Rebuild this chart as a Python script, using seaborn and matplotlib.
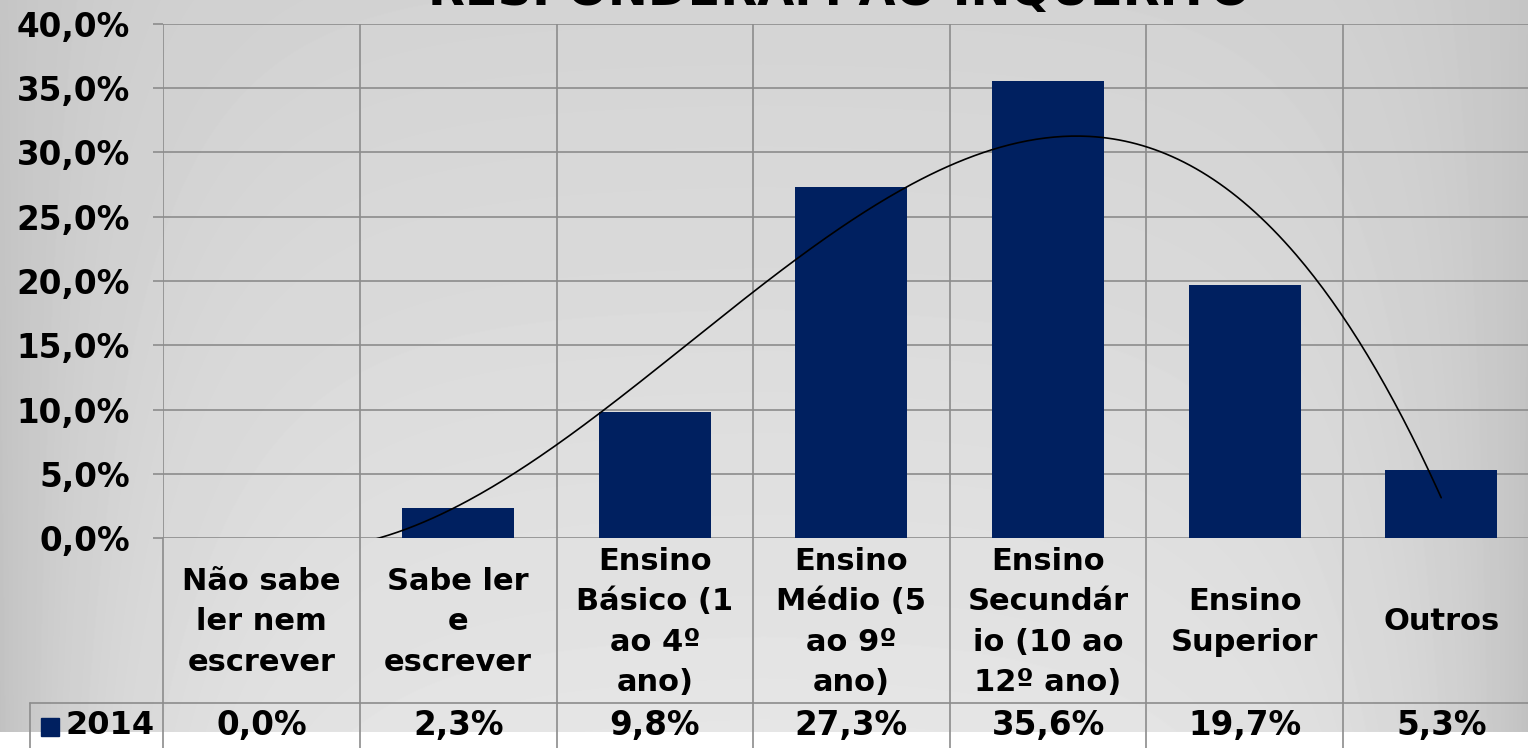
import numpy as np
import pandas as pd
import matplotlib
matplotlib.use("Agg")
import matplotlib.pyplot as plt
import matplotlib.transforms as mtransforms
from matplotlib.lines import Line2D
from matplotlib.patches import Rectangle
import seaborn as sns

# Education level of survey respondents (percent)
categories = ["Não sabe ler nem escrever", "Sabe ler e escrever",
              "Ensino Básico (1 ao 4º ano)", "Ensino Médio (5 ao 9º ano)",
              "Ensino Secundário (10 ao 12º ano)", "Ensino Superior", "Outros"]
header_labels = ["Não sabe\nler nem\nescrever", "Sabe ler\ne\nescrever",
                 "Ensino\nBásico (1\nao 4º\nano)", "Ensino\nMédio (5\nao 9º\nano)",
                 "Ensino\nSecundár\nio (10 ao\n12º ano)", "Ensino\nSuperior", "Outros"]
values_2014 = [0.0, 2.3, 9.8, 27.3, 35.6, 19.7, 5.3]
series_name = "2014"
y_ticks = [0, 5, 10, 15, 20, 25, 30, 35, 40]
title = "RESPONDERAM AO INQUÉRITO"

W, H = 1528, 748
BAR = "#002060"
GRID = "#8c8c8c"

sns.set_theme(style="white")
plt.rcParams["font.family"] = ["DejaVu Sans"]
plt.rcParams["font.weight"] = "bold"

fig = plt.figure(figsize=(W / 100, H / 100), dpi=100)


def fy(p):
    return 1 - p / H


def fx(p):
    return p / W


# soft grey backdrop, lighter towards the middle, white strip at the bottom
xs = np.arange(W)[None, :]
ys = np.arange(H)[:, None]
base = 0.83 + 0.07 * np.clip(ys / 731, 0, 1)
amp = 0.06 + 0.08 * np.clip(ys / 731, 0, 1)
edge = np.minimum(xs, W - 1 - xs)
shade = base - amp * np.exp(-edge / 130.0)
shade = np.where(ys > 731, 1.0, shade)
bg = fig.add_axes([0, 0, 1, 1], zorder=-10)
bg.imshow(shade, cmap="gray", vmin=0, vmax=1, aspect="auto",
          extent=[0, 1, 0, 1], interpolation="bilinear")
bg.axis("off")

left, right, top, bottom = 163.3, 1539.5, 24, 538
ax = fig.add_axes([fx(left), fy(bottom), fx(right - left), (bottom - top) / H], zorder=1)
ax.set_facecolor("none")

df = pd.DataFrame({"categoria": categories, "valor": values_2014})
sns.barplot(data=df, x="categoria", y="valor", color=BAR, saturation=1,
            width=0.57, ax=ax, zorder=3, edgecolor=BAR, linewidth=0)

# third-order polynomial trendline
xi = np.arange(len(values_2014))
coef = np.polyfit(xi, values_2014, 3)
xf = np.linspace(0, len(values_2014) - 1, 400)
ax.plot(xf, np.polyval(coef, xf), color="black", lw=1.2, zorder=4)

ax.set_xlim(-0.5, len(categories) - 0.5)
ax.set_ylim(0, 40)
ax.set_yticks(y_ticks)
ax.set_yticklabels([f"{t:.1f}%".replace(".", ",") for t in y_ticks],
                   fontsize=23.5, fontweight="bold", color="black")
ax.set_xticks(np.arange(-0.5, len(categories), 1), minor=True)
ax.set_xticks([])
ax.set_xlabel("")
ax.set_ylabel("")
ax.grid(which="major", axis="y", color=GRID, lw=1.2, zorder=0)
ax.grid(which="minor", axis="x", color=GRID, lw=1.2, zorder=0)
ax.tick_params(axis="y", which="major", length=7.2, width=1.2, color=GRID,
               pad=17, left=True)
ax.tick_params(axis="x", which="both", length=0)
for s in ax.spines.values():
    s.set_visible(False)

# data table under the plot
blend = mtransforms.blended_transform_factory(ax.transData, fig.transFigure)
for b in np.arange(-0.5, len(categories), 1):
    fig.add_artist(Line2D([b, b], [fy(bottom), 0], transform=blend,
                          color=GRID, lw=1.2, clip_on=False))
fig.add_artist(Line2D([fx(30), 1], [fy(703), fy(703)], transform=fig.transFigure,
                      color=GRID, lw=1.2))
fig.add_artist(Line2D([fx(30), fx(30)], [fy(703), 0], transform=fig.transFigure,
                      color=GRID, lw=1.2))

for i, lab in enumerate(header_labels):
    fig.text(i, fy(622), lab, transform=blend, ha="center", va="center",
             multialignment="center", fontsize=22, fontweight="bold",
             linespacing=1.5, color="black")
for i, v in enumerate(values_2014):
    fig.text(i, fy(726), f"{v:.1f}%".replace(".", ","), transform=blend,
             ha="center", va="center", fontsize=23.5, fontweight="bold", color="black")

fig.add_artist(Rectangle((fx(41), fy(736)), fx(18), 18 / H,
                         transform=fig.transFigure, color=BAR))
fig.text(fx(65), fy(726), series_name, ha="left", va="center",
         fontsize=23, fontweight="bold", color="black")

fig.text(fx(839), fy(5), title, ha="center", va="baseline",
         fontsize=34.5, fontweight="bold", color="black")

fig.savefig("out.png", dpi=100)
